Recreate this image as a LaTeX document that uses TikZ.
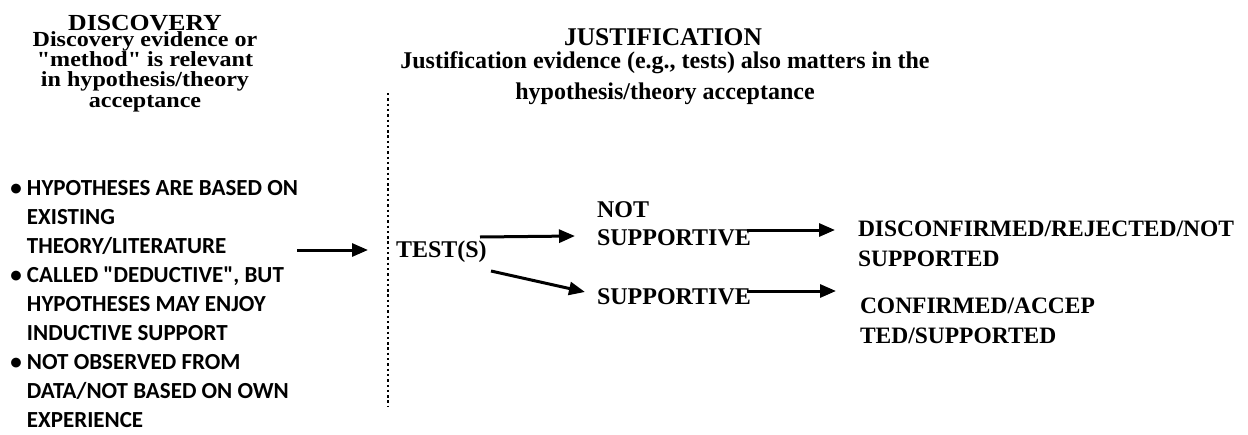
\documentclass[tikz,border=0pt]{standalone}
\usepackage{fontspec}
\setmainfont{Liberation Serif}[Ligatures=TeXOff]
\newfontfamily\discfont{Liberation Serif Bold}[FakeStretch=1.12,Ligatures=TeXOff]
\newfontfamily\bulfont{Carlito}[Ligatures=TeXOff]
\usetikzlibrary{arrows.meta}
\newcommand\bul{\makebox[18pt][l]{\hspace*{1.5pt}\textbullet}}
\begin{document}
\begin{tikzpicture}[x=1pt,y=-1pt,
  txt/.style={inner sep=0pt, outer sep=0pt, align=left},
  lbl/.style={txt, font=\bfseries\fontsize{24}{28}\selectfont},
  res/.style={txt, font=\bfseries\fontsize{23.5}{30}\selectfont},
  arr/.style={-{Triangle[length=16pt,width=13pt]}, line width=3pt},
  dotline/.style={line width=2.4pt, dash pattern=on 2.4pt off 2.9pt}]
\useasboundingbox (0,0) rectangle (1248,434);
% Discovery header
\node[txt, anchor=base, font=\discfont\fontsize{23}{24}\selectfont] (dtitle) at (145,30) {DISCOVERY};
\node[txt, anchor=base, align=center, font=\discfont\fontsize{21.5}{20.3}\selectfont] (dsub) at (145,107)
  {Discovery evidence or\\"method" is relevant\\in hypothesis/theory\\acceptance};
% Justification header
\node[txt, anchor=base, font=\bfseries\fontsize{25.5}{28}\selectfont] (jtitle) at (663,45) {JUSTIFICATION};
\node[txt, anchor=base, align=center, font=\bfseries\fontsize{24}{31}\selectfont] (jsub) at (665,99)
  {Justification evidence (e.g., tests) also matters in the\\hypothesis/theory acceptance};
% bullets
\node[txt, anchor=base west, font=\bulfont\bfseries\fontsize{23}{29.1}\selectfont] (bullets) at (9,195)
  {\begin{tabular}[t]{@{}l@{}l@{}}
   \bul & HYPOTHESES ARE BASED ON\\
   & EXISTING\\
   & THEORY/LITERATURE\\
   \bul & CALLED "DEDUCTIVE", BUT\\
   & HYPOTHESES MAY ENJOY\\
   & INDUCTIVE SUPPORT\\
   \bul & NOT OBSERVED FROM\\
   & DATA/NOT BASED ON OWN\\
   & EXPERIENCE
   \end{tabular}};
% divider
\coordinate (dtop) at (388,93);
\coordinate (dbot) at (388,407);
\draw[dotline] (dtop) -- (dbot);
% flow nodes
\node[lbl, anchor=base west] (test) at (396,257) {TEST(S)};
\node[lbl, anchor=base west] (notsup) at (597,245) {NOT\\SUPPORTIVE};
\node[lbl, anchor=base west] (sup) at (597,304) {SUPPORTIVE};
\node[res, anchor=base west] (disc) at (858,266) {DISCONFIRMED/REJECTED/NOT\\SUPPORTED};
\node[res, anchor=base west] (conf) at (860,343) {CONFIRMED/ACCEP\\TED/SUPPORTED};
% arrow end points
\coordinate (a0s) at (297,250); \coordinate (a0e) at (368,250);
\coordinate (a1s) at (480,237); \coordinate (a1e) at (575,236);
\coordinate (a2s) at (491,271); \coordinate (a2e) at (585,292);
\coordinate (a3s) at (747,230); \coordinate (a3e) at (835,230);
\coordinate (a4s) at (747,291); \coordinate (a4e) at (836,291);
\draw[arr] (a0s) -- (a0e);
\draw[arr] (a1s) -- (a1e);
\draw[arr] (a2s) -- (a2e);
\draw[arr] (a3s) -- (a3e);
\draw[arr] (a4s) -- (a4e);
\end{tikzpicture}
\end{document}
